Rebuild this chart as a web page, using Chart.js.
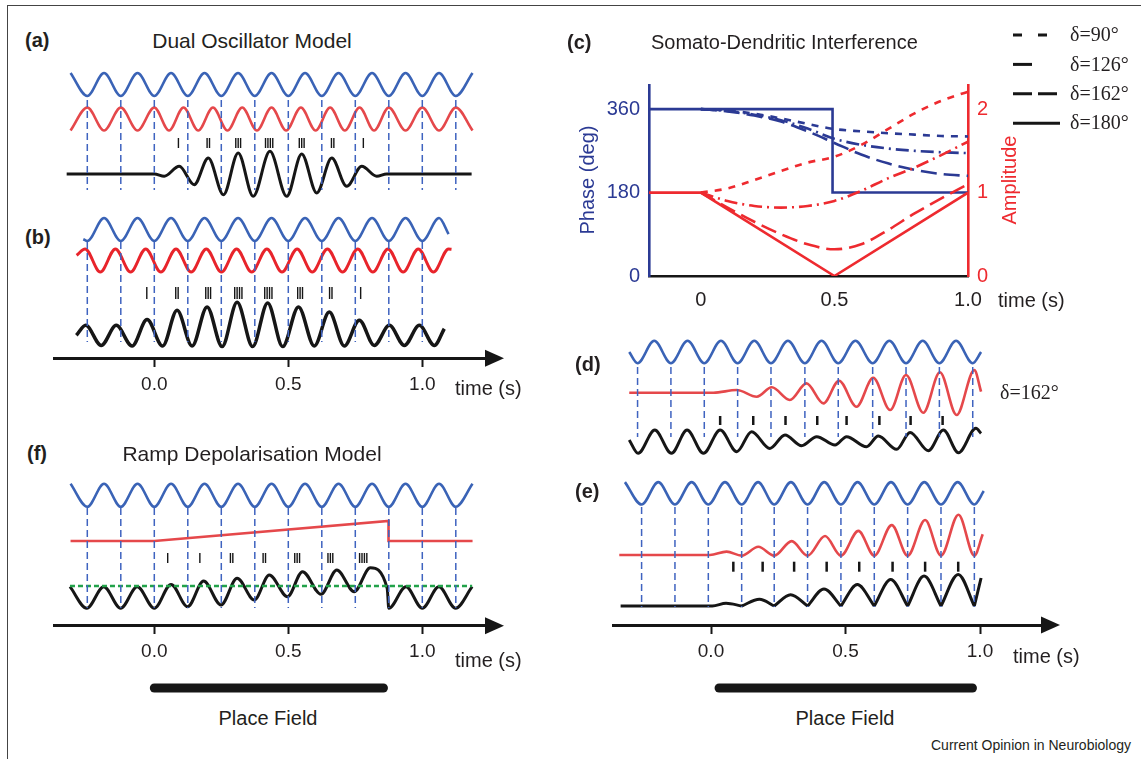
<!DOCTYPE html>
<html>
<head>
<meta charset="utf-8">
<script src="https://cdn.jsdelivr.net/npm/chart.js@4.4.1/dist/chart.umd.min.js"></script>
<style>
  html, body { margin: 0; padding: 0; background: #fff; }
  body { width: 1141px; height: 759px; position: relative; overflow: hidden;
         font-family: "Liberation Sans", Arial, sans-serif; color: #231f20; }
  .frame { position: absolute; left: 7px; top: 5px; width: 1200px; height: 800px;
           border-left: 1.5px solid #444; border-top: 1.5px solid #444; }
  canvas { position: absolute; }
  .lab { position: absolute; white-space: nowrap; line-height: 1; transform: translateY(-50%); }
  .mid { transform: translate(-50%, -50%); }
  .tag { font-weight: bold; font-size: 20px; }
  .title { font-size: 21px; }
  .serif { font-family: "Liberation Serif", "DejaVu Serif", serif; font-size: 20px; }
  .rot { transform: translate(-50%, -50%) rotate(-90deg); }
</style>
</head>
<body>
<div class="frame"></div>

<canvas id="leftChart" width="452" height="640" style="left:53px;top:60px"></canvas>
<canvas id="rightChart" width="452" height="370" style="left:612px;top:330px"></canvas>
<canvas id="cChart" width="581" height="310" style="left:560px;top:20px"></canvas>

<div class="lab tag" style="left:25px;top:40px">(a)</div>
<div class="lab title mid" style="left:252px;top:40px">Dual Oscillator Model</div>
<div class="lab tag" style="left:25px;top:237px">(b)</div>
<div class="lab" style="left:455px;top:388px;font-size:20px">time (s)</div>
<div class="lab tag" style="left:27px;top:453px">(f)</div>
<div class="lab title mid" style="left:252px;top:453px">Ramp Depolarisation Model</div>
<div class="lab" style="left:455px;top:660px;font-size:20px">time (s)</div>
<div class="lab mid" style="left:268px;top:718px;font-size:20px">Place Field</div>

<div class="lab tag" style="left:567px;top:42px">(c)</div>
<div class="lab" style="left:651px;top:42px;font-size:20px">Somato-Dendritic Interference</div>
<div class="lab rot" style="left:587px;top:180px;font-size:20px;color:#2b3a94">Phase (deg)</div>
<div class="lab rot" style="left:1009px;top:180px;font-size:20px;color:#ee2a2f">Amplitude</div>
<div class="lab" style="left:998px;top:300px;font-size:20px">time (s)</div>

<div class="lab tag" style="left:575px;top:364px">(d)</div>
<div class="lab serif" style="left:1000px;top:392px">δ=162°</div>
<div class="lab tag" style="left:575px;top:491px">(e)</div>
<div class="lab" style="left:1013px;top:656px;font-size:20px">time (s)</div>
<div class="lab mid" style="left:845px;top:718px;font-size:20px">Place Field</div>
<div class="lab" style="right:10px;top:745px;font-size:14px">Current Opinion in Neurobiology</div>

<script>
// ---- left column: (a) dual oscillator, (b) constant-frequency variant, (f) ramp model ----
const leftTicks = [0, 0.5, 1.0];
const leftTroughs = [-0.25, -0.125, 0, 0.125, 0.25, 0.375, 0.5, 0.625, 0.75, 0.875, 1.0, 1.125];

const blueLeftT = [-0.3125, -0.25, -0.1875, -0.125, -0.0625, 0, 0.0625, 0.125, 0.1875, 0.25, 0.3125, 0.375, 0.4375,
                   0.5, 0.5625, 0.625, 0.6875, 0.75, 0.8125, 0.875, 0.9375, 1.0, 1.0625, 1.125, 1.1875];
const blueLeftV = [1, -1, 1, -1, 1, -1, 1, -1, 1, -1, 1, -1, 1, -1, 1, -1, 1, -1, 1, -1, 1, -1, 1, -1, 1];

const redAT = [-0.3125, -0.25, -0.1875, -0.125, -0.0625, 0, 0.055, 0.109, 0.164, 0.219, 0.273, 0.328, 0.383, 0.4375,
               0.492, 0.547, 0.602, 0.656, 0.711, 0.766, 0.820, 0.875, 0.9375, 1.0, 1.0625, 1.125, 1.1875];
const redAV = [-1, 1, -1, 1, -1, 1, -1, 1, -1, 1, -1, 1, -1, 1, -1, 1, -1, 1, -1, 1, -1, 1, -1, 1, -1, 1, -1];
const blackAT = [-0.327, 0, 0.037, 0.093, 0.149, 0.2015, 0.258, 0.313, 0.369, 0.4315, 0.494, 0.550, 0.606, 0.662,
                 0.718, 0.774, 0.830, 0.867, 1.184];
const blackAV = [0, 0, -0.2, 0.67, -0.93, 1.39, -1.8, 1.83, -1.94, 1.97, -1.94, 1.74, -1.65, 1.39, -1.07, 0.67, -0.2, 0, 0];
const spikesA = [0.090, 0.197, 0.206, 0.304, 0.313, 0.322, 0.415, 0.424, 0.433, 0.442, 0.541, 0.550, 0.559,
                 0.661, 0.670, 0.780];

const blueBT = [-0.265, -0.25, -0.1875, -0.125, -0.0625, 0, 0.0625, 0.125, 0.1875, 0.25, 0.3125, 0.375, 0.4375,
                0.5, 0.5625, 0.625, 0.6875, 0.75, 0.8125, 0.875, 0.9375, 1.0, 1.0625, 1.098];
const blueBV = [-0.85, -1, 1, -1, 1, -1, 1, -1, 1, -1, 1, -1, 1, -1, 1, -1, 1, -1, 1, -1, 1, -1, 1, -0.4];
const redBT = [-0.29, -0.258, -0.2015, -0.145, -0.0885, -0.032, 0.0245, 0.081, 0.1375, 0.194, 0.2505, 0.307, 0.3635,
               0.42, 0.4765, 0.533, 0.5895, 0.646, 0.7025, 0.759, 0.8155, 0.872, 0.9285, 0.985, 1.0415, 1.098, 1.109];
const redBV = [0.45, 1, -1, 1, -1, 1, -1, 1, -1, 1, -1, 1, -1, 1, -1, 1, -1, 1, -1, 1, -1, 1, -1, 1, -1, 1, 0.97];
const blackBT = [-0.291, -0.256, -0.198, -0.142, -0.083, -0.027, 0.031, 0.085, 0.141, 0.197, 0.253, 0.309, 0.367,
                 0.423, 0.479, 0.538, 0.597, 0.653, 0.709, 0.765, 0.821, 0.877, 0.933, 0.989, 1.045, 1.082];
const blackBV = [0.93, 1.8, 0.05, 1.8, 0, 2.3, 0, 3.1, 0, 3.4, -0.05, 3.8, -0.05, 3.75, -0.05, 3.4, 0, 2.95, 0,
                 2.25, 0.05, 1.8, 0.05, 1.8, 0.05, 1.5];
const troughsB = [-0.25, -0.125, 0, 0.125, 0.25, 0.375, 0.5, 0.625, 0.75, 0.875, 1.0];
const spikesB = [-0.028, 0.080, 0.089, 0.192, 0.201, 0.210, 0.300, 0.309, 0.318, 0.327, 0.412, 0.421, 0.430, 0.439,
                 0.535, 0.544, 0.553, 0.654, 0.663, 0.770];

const redFT = [-0.3125, 0, 0.874, 0.874, 1.1875];
const redFV = [0, 0, 1.74, 0, 0];
const blackFT = [-0.3146, -0.252, -0.1885, -0.1255, -0.0634, 0, 0.0625, 0.1244, 0.184, 0.249, 0.309, 0.373, 0.429,
                 0.497, 0.553, 0.622, 0.681, 0.746, 0.806, 0.869, 0.875, 0.939, 1.0, 1.062, 1.124, 1.186];
const blackFV = [-0.06, -1.94, -0.06, -1.94, -0.06, -1.94, 0.14, -1.8, 0.43, -1.65, 0.67, -1.22, 0.96, -0.93, 1.25,
                 -0.72, 1.39, -0.49, 1.59, -0.2, -1.94, -0.06, -1.94, -0.06, -1.94, -0.06];
const thresholdF = [-0.3146, 1.186];
const spikesF = [0.050, 0.170, 0.284, 0.293, 0.406, 0.415, 0.524, 0.533, 0.542, 0.648, 0.657, 0.666,
                 0.766, 0.775, 0.784, 0.793];
const placeLeft = [0, 0.855];

// ---- right column: (d) delta=162, (e) ----
const rightTicks = [0, 0.5, 1.0];
const troughsD = [-0.273, -0.149, -0.025, 0.099, 0.223, 0.349, 0.473, 0.601, 0.725, 0.849, 0.973];
const blueDT = [-0.304, -0.273, -0.211, -0.149, -0.087, -0.025, 0.037, 0.099, 0.161, 0.223, 0.286, 0.349, 0.411,
                0.473, 0.537, 0.601, 0.663, 0.725, 0.787, 0.849, 0.911, 0.973, 1.004];
const blueDV = [0, -1, 1, -1, 1, -1, 1, -1, 1, -1, 1, -1, 1, -1, 1, -1, 1, -1, 1, -1, 1, -1, 0];
const redDT = [-0.304, 0.009, 0.096, 0.170, 0.226, 0.293, 0.355, 0.418, 0.476, 0.541, 0.603, 0.666, 0.725, 0.789,
               0.851, 0.913, 0.979, 1.004];
const redDV = [0, 0, 0.24, -0.36, 0.48, -0.65, 0.83, -0.95, 1.07, -1.25, 1.34, -1.55, 1.58, -1.79, 1.82, -1.99, 2.02, 0.09];
const spikesD = [0.034, 0.157, 0.277, 0.395, 0.504, 0.626, 0.742, 0.861];
const blackDT = [-0.304, -0.271, -0.209, -0.147, -0.089, -0.028, 0.034, 0.096, 0.151, 0.219, 0.275, 0.337, 0.393,
                 0.461, 0.504, 0.578, 0.622, 0.690, 0.740, 0.808, 0.864, 0.920, 0.985, 1.004];
const blackDV = [0.15, -1.04, 1.04, -1.04, 1.04, -1.04, 1.04, -0.89, 0.89, -0.6, 0.6, -0.36, 0.45, -0.3, 0.45,
                 -0.45, 0.5, -0.68, 0.83, -0.8, 1.04, -0.98, 1.19, 0.74];

const troughsE = [-0.258, -0.134, -0.010, 0.114, 0.235, 0.359, 0.483, 0.607, 0.731, 0.855, 0.979];
const blueET = [-0.320, -0.258, -0.196, -0.134, -0.072, -0.010, 0.052, 0.114, 0.175, 0.235, 0.297, 0.359, 0.421,
                0.483, 0.545, 0.607, 0.669, 0.731, 0.793, 0.855, 0.917, 0.979, 1.014];
const blueEV = [1, -1, 1, -1, 1, -1, 1, -1, 1, -1, 1, -1, 1, -1, 1, -1, 1, -1, 1, -1, 1, -1, 0.2];
const redET = [-0.341, -0.004, 0.058, 0.114, 0.176, 0.235, 0.300, 0.359, 0.424, 0.483, 0.548, 0.607, 0.672, 0.731,
               0.796, 0.855, 0.920, 0.979, 1.010];
const redEV = [0, 0, 0.3, -0.06, 0.73, -0.06, 1.24, -0.06, 1.7, -0.06, 2.15, -0.06, 2.67, -0.06, 3.12, -0.06, 3.6, -0.06, 1.85];
const spikesE = [0.083, 0.192, 0.309, 0.430, 0.551, 0.675, 0.796, 0.919];
const blackET = [-0.336, 0.005, 0.056, 0.114, 0.180, 0.235, 0.296, 0.359, 0.420, 0.483, 0.544, 0.607, 0.668,
                 0.731, 0.792, 0.855, 0.919, 0.979, 1.004];
const blackEV = [0, 0, 0.24, 0, 0.6, 0, 1.0, 0, 1.52, 0, 1.91, 0, 2.36, 0, 2.67, 0, 2.82, 0, 2.5];
const cuspsE = [0.114, 0.235, 0.359, 0.483, 0.607, 0.731, 0.855, 0.979];
const placeRight = [0.03, 0.972];

// ---- (c) somato-dendritic interference ----
const cTicksX = [0, 0.5, 1.0];
const cTicksPhase = [0, 90, 180, 270, 360];
const cTicksAmp = [0, 1, 2];
const deltaLabels = ['δ=90°', 'δ=126°', 'δ=162°', 'δ=180°'];
const curveT = [0, 0.1, 0.2, 0.3, 0.4, 0.5, 0.6, 0.7, 0.8, 0.9, 1.0];
const phase90 = [360, 357, 350, 340, 328, 317, 312, 308, 305, 302, 301];
const phase126 = [360, 356, 348, 336, 318, 296, 283, 275, 270, 267, 265];
const phase162 = [360, 355, 346, 333, 312, 287, 262, 243, 229, 220, 216];
const amp90 = [1.0, 1.05, 1.15, 1.26, 1.36, 1.43, 1.57, 1.76, 1.95, 2.1, 2.21];
const amp126 = [1.0, 0.9, 0.84, 0.82, 0.84, 0.9, 1.02, 1.17, 1.3, 1.45, 1.61];
const amp162 = [1.0, 0.82, 0.65, 0.5, 0.38, 0.32, 0.38, 0.55, 0.75, 0.93, 1.1];
const phase180T = [-0.194, 0.493, 0.493, 1.0];
const phase180 = [360, 360, 180, 180];
const amp180T = [-0.194, 0, 0.5, 1.0];
const amp180 = [1, 1, 0, 1];

Chart.defaults.font.family = '"Liberation Sans", Arial, sans-serif';
Chart.defaults.color = '#231f20';

const BLUE = '#3a63b6';
const RED = '#e5484b';
const RED_B = '#e8242b';
const BLACK = '#161616';
const DASH_BLUE = '#3f63c0';
const GL = 11.5;   // px per unit, left column
const GR = 11.2;   // px per unit, right column

function trace(ts, vs, base, gain) {
    return ts.map((t, i) => ({ x: t, y: base - vs[i] * gain }));
}
function withCusps(points, cusps) {
    const out = [];
    points.forEach(p => {
        out.push(p);
        if (cusps.includes(p.x)) {
            out.push({ x: p.x, y: null });
            out.push({ x: p.x, y: p.y });
        }
    });
    return out;
}
function vlines(ts, top, bottom) {
    const out = [];
    ts.forEach(t => out.push({ x: t, y: top }, { x: t, y: bottom }, { x: t, y: null }));
    return out;
}
function atRow(ts, y) {
    return ts.map(t => ({ x: t, y: y }));
}

const wave = (data, color, width) => ({
    data, borderColor: color, borderWidth: width, cubicInterpolationMode: 'monotone',
    pointRadius: 0, clip: false, spanGaps: false
});
const straight = (data, color, width, dash) => ({
    data, borderColor: color, borderWidth: width, borderDash: dash || [], tension: 0,
    pointRadius: 0, clip: false, spanGaps: false
});
const spikeSet = (data, half, width) => ({
    data, showLine: false, pointStyle: 'line', pointRotation: 90, pointRadius: half,
    pointBorderWidth: width, pointBorderColor: BLACK, pointBackgroundColor: BLACK, clip: false
});

function timeAxis(min, max, atY, ticks) {
    return {
        type: 'linear', axis: 'x', min: min, max: max,
        position: { y: atY },
        afterFit: s => { s.height = 0; },
        afterBuildTicks: s => { s.ticks = ticks.map(v => ({ value: v })); },
        border: { display: true, color: BLACK, width: 3 },
        grid: { drawOnChartArea: false, drawTicks: true, tickLength: 7, tickWidth: 2, tickColor: BLACK },
        ticks: { autoSkip: false, maxRotation: 0, padding: 8, color: '#231f20',
                 font: { size: 19 }, callback: v => Number(v).toFixed(1) }
    };
}

const arrowPlugin = {
    id: 'arrowAxes',
    afterDraw(chart, args, opts) {
        const ctx = chart.ctx;
        (opts.ids || []).forEach(id => {
            const s = chart.scales[id];
            const pos = s.options.position;
            const key = Object.keys(pos)[0];
            const y = chart.scales[key].getPixelForValue(pos[key]);
            const x = s.right;
            ctx.save();
            ctx.fillStyle = BLACK;
            ctx.beginPath();
            ctx.moveTo(x - 5, y - 8.5);
            ctx.lineTo(x + 14, y);
            ctx.lineTo(x - 5, y + 8.5);
            ctx.closePath();
            ctx.fill();
            ctx.restore();
        });
    }
};

const baseOptions = {
    responsive: false,
    animation: false,
    events: [],
    elements: { point: { radius: 0 }, line: { tension: 0 } }
};

// Left column chart (page y used as the vertical value scale)
const leftSets = [
    straight(vlines(leftTroughs, 100, 190), DASH_BLUE, 1.5, [7, 4]),
    wave(trace(blueLeftT, blueLeftV, 84.5, GL), BLUE, 2.6),
    wave(trace(redAT, redAV, 119, GL), RED, 2.6),
    spikeSet(atRow(spikesA, 143), 5, 1.4),
    wave(trace(blackAT, blackAV, 174, GL), BLACK, 3),

    straight(vlines(troughsB, 242, 342), DASH_BLUE, 1.5, [7, 4]),
    wave(trace(blueBT, blueBV, 229.5, GL), BLUE, 2.6),
    wave(trace(redBT, redBV, 260.5, GL), RED_B, 3),
    spikeSet(atRow(spikesB, 293), 6, 1.4),
    wave(trace(blackBT, blackBV, 346, GL), BLACK, 3.5),

    straight(vlines(leftTroughs, 508, 608), DASH_BLUE, 1.5, [7, 4]),
    wave(trace(blueLeftT, blueLeftV, 495.3, GL), BLUE, 2.6),
    straight(trace(redFT, redFV, 541, GL), RED, 2.6),
    spikeSet(atRow(spikesF, 558), 5, 1.4),
    straight(atRow(thresholdF, 586), '#22a24a', 2.5, [5, 3]),
    wave(trace(blackFT, blackFV, 586, GL), BLACK, 3),

    straight(atRow(placeLeft, 688), BLACK, 9)
];
leftSets.forEach(d => { d.xAxisID = 'x'; d.yAxisID = 'y'; });
leftSets[leftSets.length - 1].borderCapStyle = 'round';

new Chart(document.getElementById('leftChart'), {
    type: 'line',
    data: { datasets: leftSets },
    options: Object.assign({}, baseOptions, {
        layout: { autoPadding: false, padding: { left: 0, right: 15, top: 0, bottom: 0 } },
        plugins: { legend: { display: false }, tooltip: { enabled: false }, arrowAxes: { ids: ['x', 'x2'] } },
        scales: {
            x: timeAxis((53 - 154.3) / 268, (490 - 154.3) / 268, 358.3, leftTicks),
            x2: timeAxis((53 - 154.3) / 268, (490 - 154.3) / 268, 625.7, leftTicks),
            y: { type: 'linear', min: 60, max: 700, reverse: true, display: false }
        }
    }),
    plugins: [arrowPlugin]
});

// Right column chart
const rightSets = [
    straight(vlines(troughsD, 367, 437), DASH_BLUE, 1.5, [7, 4]),
    wave(trace(blueDT, blueDV, 352, GR), BLUE, 2.6),
    wave(trace(redDT, redDV, 392.7, GR), RED, 2.6),
    spikeSet(atRow(spikesD, 420.5), 4.5, 2.5),
    wave(trace(blackDT, blackDV, 441.7, GR), BLACK, 3),

    straight(vlines(troughsE, 507, 607), DASH_BLUE, 1.5, [7, 4]),
    wave(trace(blueET, blueEV, 493.3, GR), BLUE, 2.6),
    wave(trace(redET, redEV, 555, GR), RED, 2.6),
    spikeSet(atRow(spikesE, 566.7), 5, 2.5),
    wave(withCusps(trace(blackET, blackEV, 606, GR), cuspsE), BLACK, 3),

    straight(atRow(placeRight, 688), BLACK, 9)
];
rightSets.forEach(d => { d.xAxisID = 'x'; d.yAxisID = 'y'; });
rightSets[rightSets.length - 1].borderCapStyle = 'round';

new Chart(document.getElementById('rightChart'), {
    type: 'line',
    data: { datasets: rightSets },
    options: Object.assign({}, baseOptions, {
        layout: { autoPadding: false, padding: { left: 0, right: 18, top: 0, bottom: 0 } },
        plugins: { legend: { display: false }, tooltip: { enabled: false }, arrowAxes: { ids: ['x'] } },
        scales: {
            x: timeAxis((612 - 711) / 269, (1046 - 711) / 269, 625, rightTicks),
            y: { type: 'linear', min: 330, max: 700, reverse: true, display: false }
        }
    }),
    plugins: [arrowPlugin]
});

// (c) chart with legend drawn beside it
const C_BLUE = '#2b3a94';
const C_RED = '#ee2a2f';
const dash90 = [7, 7];
const dash126 = [13, 5, 2, 5];
const dash162 = [16, 7];

const deltaLegend = {
    id: 'deltaLegend',
    afterDraw(chart, args, opts) {
        const ctx = chart.ctx;
        opts.labels.forEach((lab, i) => {
            const y = opts.top + i * opts.step;
            ctx.save();
            ctx.strokeStyle = BLACK;
            ctx.lineWidth = 3;
            ctx.setLineDash(opts.dashes[i]);
            ctx.beginPath();
            ctx.moveTo(opts.x, y);
            ctx.lineTo(opts.x + opts.len, y);
            ctx.stroke();
            ctx.setLineDash([]);
            ctx.fillStyle = '#231f20';
            ctx.font = '20px "Liberation Serif", serif';
            ctx.textBaseline = 'middle';
            ctx.fillText(lab, opts.x + opts.len + 10, y + 1);
            ctx.restore();
        });
    }
};

const pts = (ts, vs) => ts.map((t, i) => ({ x: t, y: vs[i] }));
const cLine = (data, axis, color, dash, smooth) => ({
    data, yAxisID: axis, xAxisID: 'x', borderColor: color, borderWidth: 2.6, borderDash: dash,
    pointRadius: 0, tension: 0, cubicInterpolationMode: smooth ? 'monotone' : 'default'
});

new Chart(document.getElementById('cChart'), {
    type: 'line',
    data: {
        datasets: [
            cLine(pts(curveT, amp90), 'y2', C_RED, dash90, true),
            cLine(pts(curveT, amp126), 'y2', C_RED, dash126, true),
            cLine(pts(curveT, amp162), 'y2', C_RED, dash162, true),
            cLine(pts(amp180T, amp180), 'y2', C_RED, [], false),
            cLine(pts(curveT, phase90), 'y', C_BLUE, dash90, true),
            cLine(pts(curveT, phase126), 'y', C_BLUE, dash126, true),
            cLine(pts(curveT, phase162), 'y', C_BLUE, dash162, true),
            cLine(pts(phase180T, phase180), 'y', C_BLUE, [], false)
        ]
    },
    options: Object.assign({}, baseOptions, {
        layout: { autoPadding: false, padding: { left: 29, right: 113, top: 65, bottom: 14 } },
        plugins: {
            legend: { display: false }, tooltip: { enabled: false },
            deltaLegend: { labels: deltaLabels, dashes: [[9, 16], [19, 60], [19, 6], []],
                           x: 453, len: 47, top: 15, step: 29.4 }
        },
        scales: {
            x: {
                type: 'linear', min: -0.194, max: 1.0,
                afterFit: s => { s.height = 40; },
                afterBuildTicks: s => { s.ticks = cTicksX.map(v => ({ value: v })); },
                border: { display: true, color: BLACK, width: 2.6 },
                grid: { display: false, drawTicks: false },
                ticks: { autoSkip: false, maxRotation: 0, padding: 12, color: '#231f20', font: { size: 20 },
                         callback: v => (v === 0 ? '0' : Number(v).toFixed(1)) }
            },
            y: {
                type: 'linear', position: 'left', min: 0, max: 412,
                afterFit: s => { s.width = 60; },
                afterBuildTicks: s => { s.ticks = cTicksPhase.map(v => ({ value: v })); },
                border: { display: true, color: C_BLUE, width: 2.6 },
                grid: { display: false, drawTicks: false },
                ticks: { autoSkip: false, padding: 9, color: C_BLUE, font: { size: 20 },
                         callback: v => (v % 180 === 0 ? String(v) : '') }
            },
            y2: {
                type: 'linear', position: 'right', min: 0, max: 2.29,
                afterFit: s => { s.width = 60; },
                afterBuildTicks: s => { s.ticks = cTicksAmp.map(v => ({ value: v })); },
                border: { display: true, color: C_RED, width: 2.6 },
                grid: { display: false, drawTicks: false },
                ticks: { autoSkip: false, padding: 9, color: C_RED, font: { size: 20 },
                         callback: v => String(v) }
            }
        }
    }),
    plugins: [deltaLegend]
});
</script>
</body>
</html>
